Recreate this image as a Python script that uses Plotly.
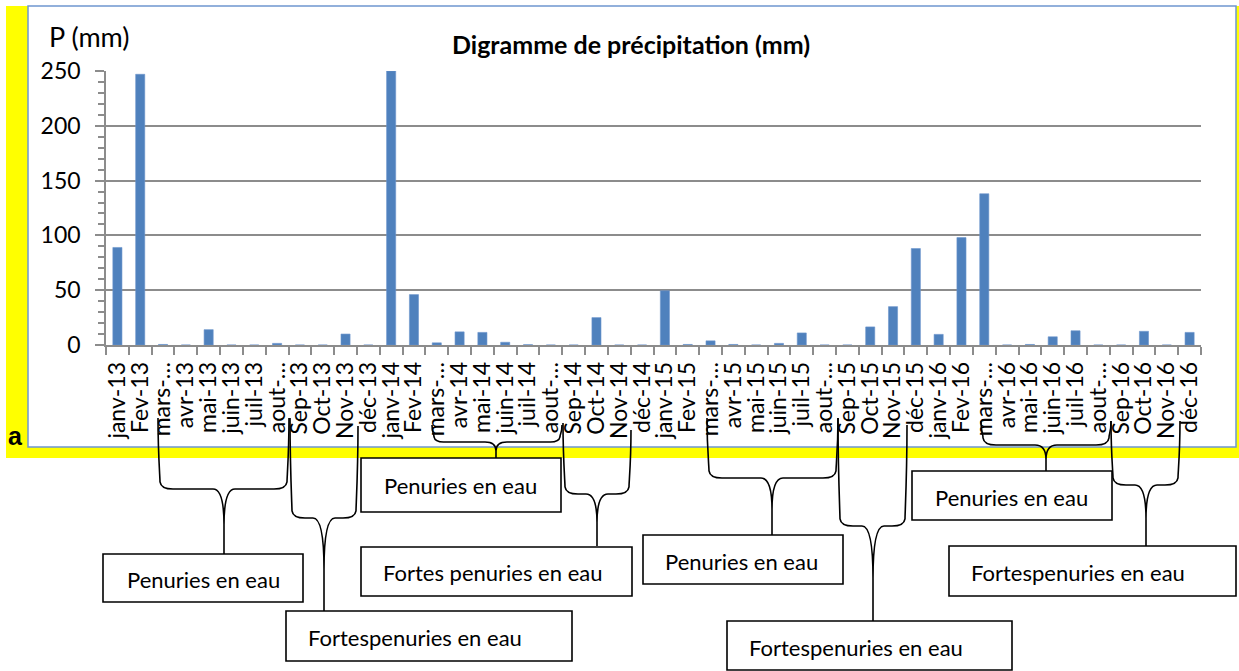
import plotly.graph_objects as go

# ---------------- data ----------------
keys = [f"{y}-{m:02d}" for y in (13, 14, 15, 16) for m in range(1, 13)]
month_labels = ["janv", "Fev", "mars-…", "avr", "mai", "juin", "juil", "aout-…",
                "Sep", "Oct", "Nov", "déc"]
tick_labels = []
for y in (13, 14, 15, 16):
    for m in month_labels:
        tick_labels.append(m if m.endswith("…") else f"{m}-{y}")

precip_2013 = [89, 247, 0.5, 0, 14, 0, 0, 1.5, 0, 0, 10, 0]
precip_2014 = [250, 46, 2, 12, 11.5, 2.5, 0.3, 0, 0, 25, 0, 0]
precip_2015 = [49.5, 0.5, 3.8, 0.5, 0, 1.5, 11, 0, 0, 16.5, 35, 88]
precip_2016 = [9.7, 98, 138, 0, 0.5, 7.5, 13, 0, 0, 12.5, 0, 11.5]
precip = precip_2013 + precip_2014 + precip_2015 + precip_2016

y_ticks = [0, 50, 100, 150, 200, 250]

title_text = "Digramme de précipitation (mm)"
y_title = "P (mm)"
panel_letter = "a"

# ---------------- layout geometry (pixels) ----------------
W, H = 1239, 671
L, R, T, B = 106, 1201, 71, 345   # plot area edges


def px(x):
    return (x - L) / (R - L)


def py(y):
    return (B - y) / (B - T)


FONT = "Lato"
GRID = "#8c8c8c"

fig = go.Figure()
fig.add_trace(go.Bar(
    x=keys, y=precip, marker=dict(color="#4F81BD", line=dict(color="#6d95cc", width=0.6)),
    showlegend=False, hoverinfo="x+y"))

shapes = []
# yellow frame + white panel
shapes.append(dict(type="rect", xref="paper", yref="paper", layer="below",
                   x0=px(6), x1=px(1239), y0=py(458), y1=py(6),
                   fillcolor="#ffff00", line=dict(width=0)))
shapes.append(dict(type="rect", xref="paper", yref="paper", layer="below",
                   x0=px(28), x1=px(1236), y0=py(447), y1=py(6),
                   fillcolor="white", line=dict(color="#6f96cf", width=1.5)))


def brace(xl, ytl, xr, ytr, yh, xc, ytip):
    r = min(12, (yh - min(ytl, ytr)) * 0.5)
    w = 11
    d = (ytip - yh) * 0.55

    def P(x, y):
        return f"{px(x):.5f},{py(y):.5f}"
    left = (f"M{P(xl, ytl)} C{P(xl, ytl + (yh - ytl) * 0.5)} {P(xl + 2, yh - r)} {P(xl + 2, yh - r * 0.6)}"
            f" Q{P(xl + 3, yh)} {P(xl + r + 3, yh)} L{P(xc - w, yh)}"
            f" C{P(xc - w * 0.35, yh)} {P(xc, yh + d * 0.35)} {P(xc, yh + d)} L{P(xc, ytip)}")
    right = (f" M{P(xr, ytr)} C{P(xr, ytr + (yh - ytr) * 0.5)} {P(xr - 2, yh - r)} {P(xr - 2, yh - r * 0.6)}"
             f" Q{P(xr - 3, yh)} {P(xr - r - 3, yh)} L{P(xc + w, yh)}"
             f" C{P(xc + w * 0.35, yh)} {P(xc, yh + d * 0.35)} {P(xc, yh + d)}")
    return dict(type="path", xref="paper", yref="paper", layer="above",
                path=left + right, line=dict(color="black", width=1.6))


braces = [
    (158, 418, 289, 418, 489, 224, 554),
    (290, 418, 358, 426, 518, 324, 611),
    (432, 425, 562, 425, 442, 496, 458),
    (563, 423, 631, 430, 494, 597, 546),
    (707, 418, 838, 418, 478, 772, 535),
    (838, 418, 907, 425, 526, 873, 621),
    (981, 421, 1111, 421, 445, 1046, 471),
    (1111, 421, 1180, 421, 485, 1146, 546),
]
for b in braces:
    shapes.append(brace(*b))

# boxes: (x0, y0, x1, y1, text, align, text_x, text_y)
boxes = [
    (103, 554, 303, 602, "Penuries en eau", "center", 203, 579),
    (286, 611, 572, 661, "Fortespenuries en eau", "left", 306, 637),
    (361, 458, 561, 512, "Penuries en eau", "center", 460, 485),
    (361, 547, 632, 596, "Fortes penuries en eau", "left", 381, 572),
    (643, 535, 843, 584, "Penuries en eau", "center", 742, 561),
    (727, 621, 1012, 670, "Fortespenuries en eau", "left", 747, 647),
    (912, 471, 1112, 520, "Penuries en eau", "center", 1011, 497),
    (949, 546, 1236, 596, "Fortespenuries en eau", "left", 969, 572),
]
annotations = []
for x0, y0, x1, y1, txt, al, tx, ty in boxes:
    shapes.append(dict(type="rect", xref="paper", yref="paper", layer="above",
                       x0=px(x0), x1=px(x1), y0=py(y1), y1=py(y0),
                       fillcolor="white", line=dict(color="black", width=1.6)))
    annotations.append(dict(xref="paper", yref="paper", x=px(tx), y=py(ty),
                            text=txt, showarrow=False, xanchor=al, yanchor="middle",
                            font=dict(family=FONT, size=22, color="black")))

annotations.append(dict(xref="paper", yref="paper", x=px(631), y=py(44), text=f"<b>{title_text}</b>",
                        showarrow=False, xanchor="center", yanchor="middle",
                        font=dict(family=FONT, size=25, color="black")))
annotations.append(dict(xref="paper", yref="paper", x=px(47), y=py(36), text=y_title,
                        showarrow=False, xanchor="left", yanchor="middle",
                        font=dict(family=FONT, size=27, color="black")))
annotations.append(dict(xref="paper", yref="paper", x=px(15), y=py(436), text=f"<b>{panel_letter}</b>",
                        showarrow=False, xanchor="center", yanchor="middle",
                        font=dict(family="Liberation Sans", size=25, color="black")))

fig.update_layout(
    width=W, height=H, autosize=False,
    margin=dict(l=L, r=W - R, t=T, b=H - B, pad=0),
    paper_bgcolor="white", plot_bgcolor="rgba(0,0,0,0)",
    bargap=0.6, showlegend=False,
    shapes=shapes, annotations=annotations,
    font=dict(family=FONT, color="black"),
    xaxis=dict(type="category", tickmode="array", tickvals=keys, ticktext=tick_labels,
               tickson="boundaries", ticks="outside", ticklen=8, tickwidth=1.5, tickcolor=GRID,
               tickangle=-90, tickfont=dict(family=FONT, size=23, color="black"),
               showline=True, linecolor=GRID, linewidth=1.5, showgrid=False,
               ticklabelstandoff=6, range=[-0.5, 47.5]),
    yaxis=dict(range=[0, 250], tickmode="array", tickvals=y_ticks,
               ticks="outside", ticklen=9, tickwidth=1.5, tickcolor=GRID,
               minor=dict(dtick=10, ticks="outside", ticklen=6, tickwidth=1.5, tickcolor=GRID, showgrid=False),
               showgrid=True, gridcolor=GRID, gridwidth=1.5,
               showline=True, linecolor=GRID, linewidth=1.5, zeroline=False,
               tickfont=dict(family=FONT, size=23, color="black"), ticklabelstandoff=10),
    yaxis2=dict(overlaying="y", anchor="x", side="left", range=[0, 250], tickmode="array",
                tickvals=y_ticks, ticks="inside", ticklen=7, tickwidth=1.5, tickcolor=GRID,
                minor=dict(dtick=10, ticks="inside", ticklen=6, tickwidth=1.5, tickcolor=GRID, showgrid=False),
                showticklabels=False, showgrid=False, showline=False, zeroline=False),
)

fig.write_html("out.html", config={"displayModeBar": False},
               post_script="document.body.style.margin='0';document.body.style.overflow='hidden';")
